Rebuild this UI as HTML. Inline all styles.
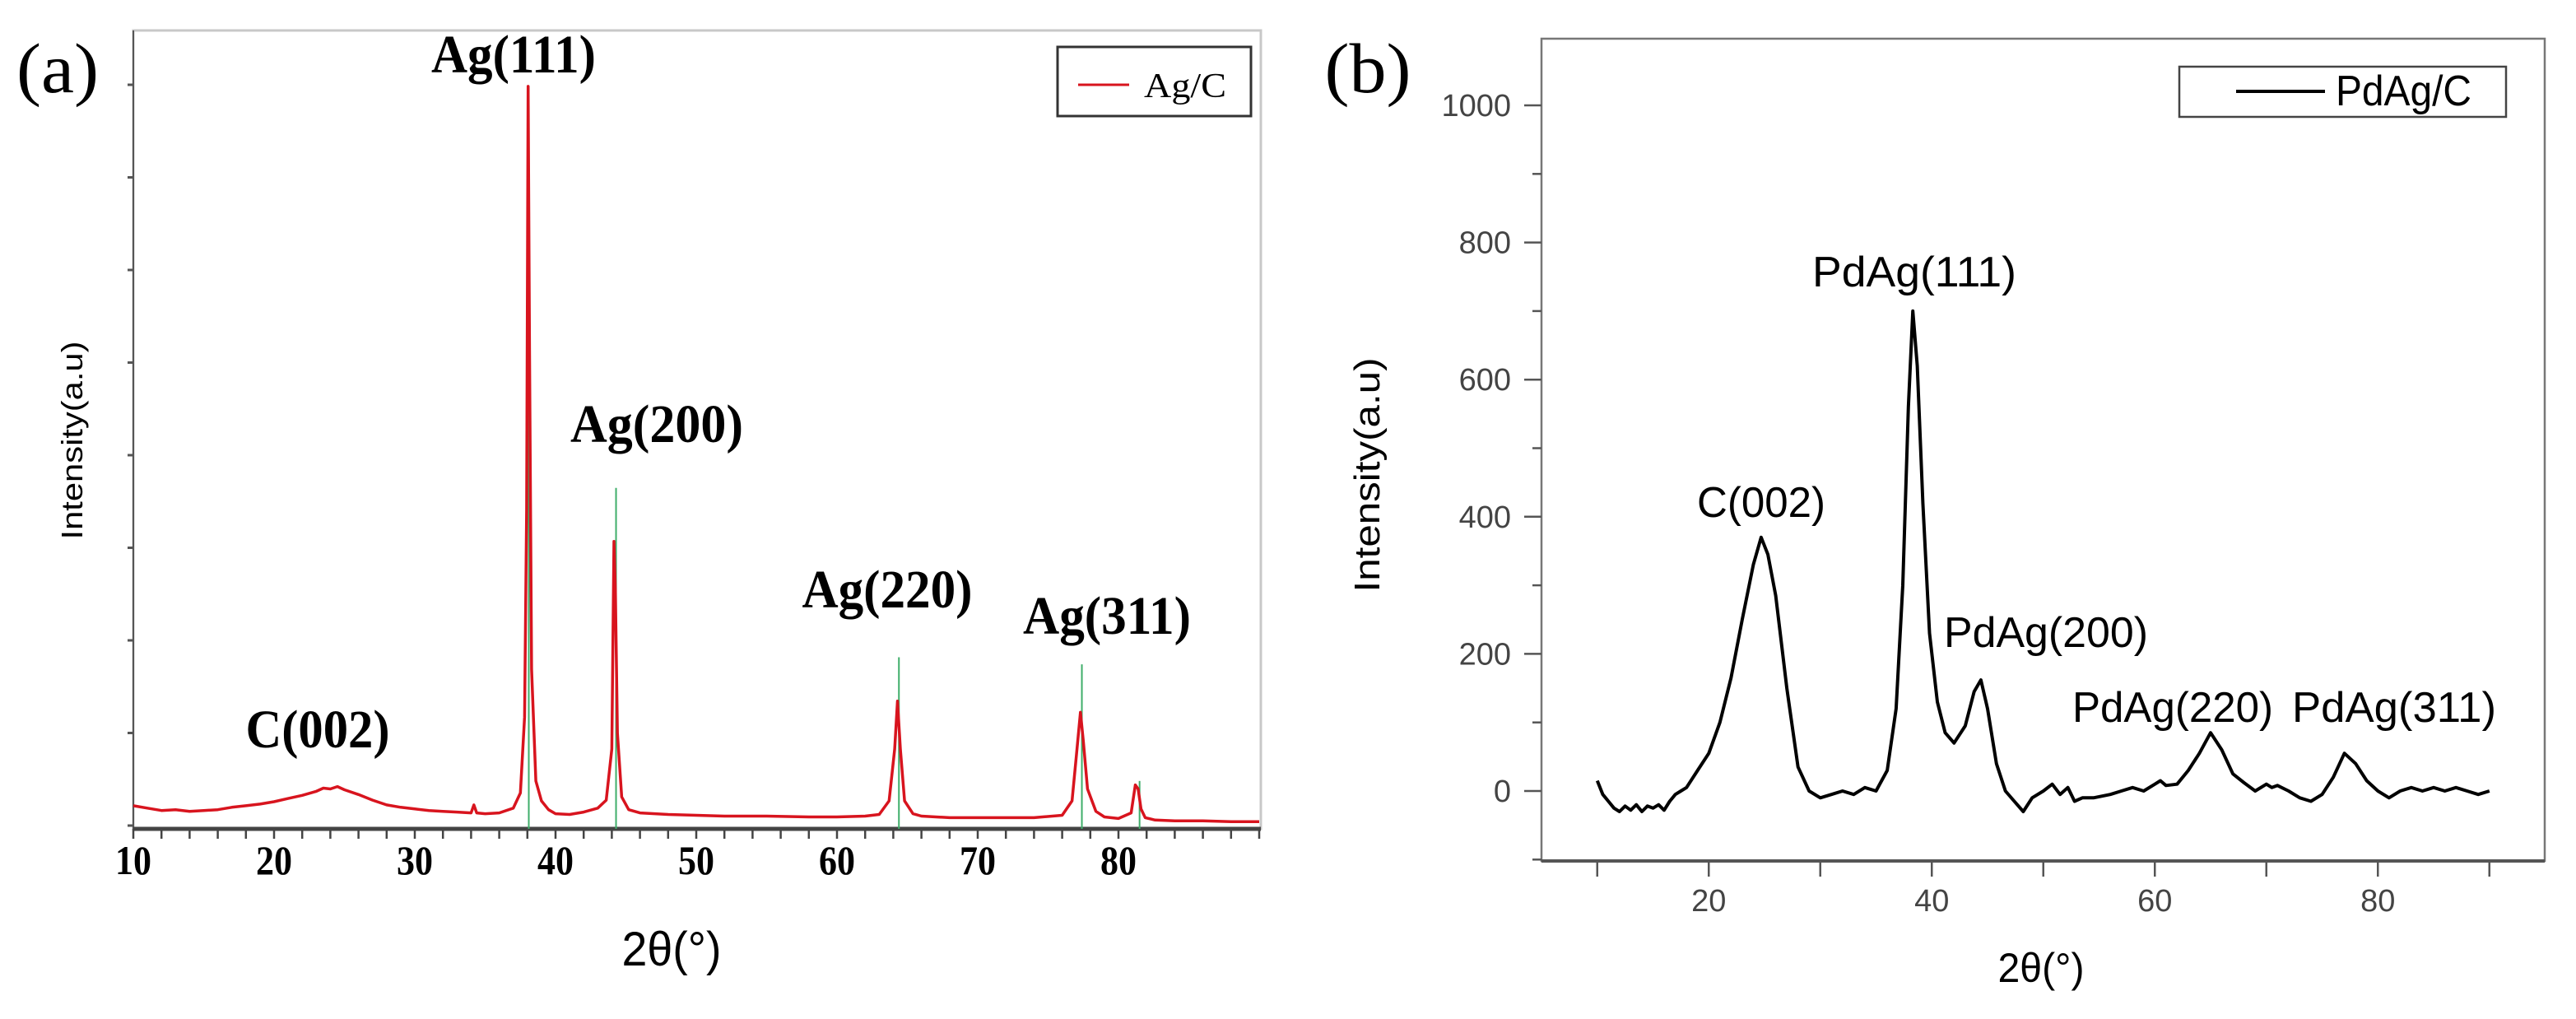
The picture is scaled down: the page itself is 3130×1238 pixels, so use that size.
<!DOCTYPE html>
<html><head><meta charset="utf-8">
<style>
html,body{margin:0;padding:0;background:#fff;}
svg{display:block;}
.serif{font-family:"Liberation Serif",serif;}
.sans{font-family:"Liberation Sans",sans-serif;}
</style></head>
<body>
<svg id="fig" width="3130" height="1238" viewBox="0 0 3130 1238" xmlns="http://www.w3.org/2000/svg">
<rect width="3130" height="1238" fill="#fff"/>
<g id="pa"></g>
<g id="pb"></g>
</svg>
<script>
// Panel (a) data: 2theta vs relative intensity (0-100 of plot height)
const xsA = [10,11,12,13,14,15,16,17,18,19,20,21,22,23,23.5,24,24.5,25,26,27,28,29,30,31,32,33,34,34.2,34.4,35,36,37,37.5,37.8,37.95,38.05,38.15,38.3,38.6,39,39.5,40,41,42,43,43.6,44.0,44.15,44.25,44.4,44.7,45.2,46,48,50,52,55,58,60,62,63,63.7,64.1,64.3,64.5,64.8,65.4,66,68,70,72,74,76,76.7,77.0,77.3,77.5,77.8,78.4,79,80,80.9,81.2,81.4,81.6,81.9,82.6,84,86,88,90];
const ysA = [2.9,2.6,2.3,2.4,2.2,2.3,2.4,2.7,2.9,3.1,3.4,3.8,4.2,4.7,5.1,5.0,5.3,4.9,4.3,3.6,3.0,2.7,2.5,2.3,2.2,2.1,2.0,3.0,2.0,1.9,2.0,2.6,4.5,14,40,93,60,20,6,3.5,2.4,1.9,1.8,2.1,2.6,3.6,10,36,30,12,4,2.4,2.0,1.8,1.7,1.6,1.6,1.5,1.5,1.6,1.8,3.5,10,16,10,3.5,1.9,1.6,1.4,1.4,1.4,1.4,1.7,3.5,9,14.6,11,5,2.2,1.5,1.3,2,5.5,5,2.5,1.4,1.1,1.0,1.0,0.9,0.9];
const refXA = [38.1,44.3,64.4,77.4,81.5];
const refHA = [93,42.7,21.5,20.6,6];
const xTicksA = [10,20,30,40,50,60,70,80];
const peakLabelsA = ["Ag(111)","Ag(200)","Ag(220)","Ag(311)","C(002)"];

// Panel (b) data
const xsB = [10,10.5,11,11.5,12,12.5,13,13.5,14,14.5,15,15.5,16,16.5,17,17.5,18,19,20,21,22,23,24,24.7,25.3,26,27,28,29,30,31,32,33,34,35,36,36.8,37.4,37.9,38.3,38.7,39.2,39.8,40.5,41.2,42,43,43.8,44.4,45,45.8,46.6,47.4,48.2,49,50,50.8,51.5,52.2,52.8,53.5,54.5,56,57,58,59,60,60.5,61,62,63,64,65,66,67,68,69,70,70.5,71,72,73,74,75,76,77,78,79,80,81,82,83,84,85,86,87,88,89,90];
const ysB = [15,-5,-15,-25,-30,-22,-28,-20,-30,-22,-25,-20,-28,-15,-5,0,5,30,55,100,165,250,330,370,345,285,150,35,0,-10,-5,0,-5,5,0,30,120,300,560,700,620,420,230,130,85,70,95,145,162,120,40,0,-15,-30,-10,0,10,-5,5,-15,-10,-10,-5,0,5,0,10,15,8,10,30,55,85,60,25,12,0,10,5,8,0,-10,-15,-5,20,55,40,15,0,-10,0,5,0,5,0,5,0,-5,0];
const yTicksB = [0,200,400,600,800,1000];
const xTicksB = [20,40,60,80];
const peakLabelsB = ["C(002)","PdAg(111)","PdAg(200)","PdAg(220)","PdAg(311)"];

const NS="http://www.w3.org/2000/svg";
function mk(parent, tag, attrs, text){
  const e=document.createElementNS(NS,tag);
  for(const k in attrs) e.setAttribute(k,attrs[k]);
  if(text!==undefined) e.textContent=text;
  parent.appendChild(e); return e;
}

// ---------- Panel A ----------
const pa=document.getElementById('pa');
const aL=162,aR=1532,aT=37,aB=1007;
const xA=v=>aL+(v-10)*17.1;
const yA=v=>aB-v*9.7;
let e;
e=mk(pa,'rect',{x:aL,y:aT,width:aR-aL,height:aB-aT,fill:'none',stroke:'#c8c8c8','stroke-width':3});


e=mk(pa,'line',{x1:aL,y1:aT,x2:aL,y2:aB,stroke:'#555','stroke-width':2});


for(let i=0;i<9;i++){
  const yy=103+i*112.5;
  e=mk(pa,'line',{x1:aL-7,y1:yy,x2:aL,y2:yy,stroke:'#555','stroke-width':3});
  
  
}
for(let v=10;v<=90;v+=2){
  e=mk(pa,'line',{x1:xA(v),y1:aB,x2:xA(v),y2:aB+12,stroke:'#444','stroke-width':2.5});
  
  
}
e=mk(pa,'line',{x1:aL,y1:aB,x2:aR,y2:aB,stroke:'#444','stroke-width':5});


xTicksA.forEach(v=>{
  e=mk(pa,'text',{x:xA(v),y:1062,'text-anchor':'middle','font-size':50,'font-weight':'bold',class:'serif',textLength:44,lengthAdjust:'spacingAndGlyphs'},String(v));
  
  
});
refXA.forEach((v,i)=>{
  e=mk(pa,'line',{x1:xA(v),y1:aB,x2:xA(v),y2:yA(refHA[i]),stroke:'#3fae6a','stroke-width':2});
  
  
});
let d='';
xsA.forEach((v,i)=>{d+=(i?'L':'M')+xA(v).toFixed(1)+' '+yA(ysA[i]).toFixed(1);});
e=mk(pa,'path',{d:d,fill:'none',stroke:'#d8141e','stroke-width':3.5,'stroke-linejoin':'round'});


const aLab=[[624,88,200],[798,537,210],[1078,738,207],[1345,770,204],[386,908,175]];
peakLabelsA.forEach((t,i)=>{
  e=mk(pa,'text',{x:aLab[i][0],y:aLab[i][1],'text-anchor':'middle','font-size':66,'font-weight':'bold',class:'serif',textLength:aLab[i][2],lengthAdjust:'spacingAndGlyphs'},t);
  
  
});
e=mk(pa,'text',{x:70,y:112,'text-anchor':'middle','font-size':86,class:'serif',textLength:100,lengthAdjust:'spacingAndGlyphs'},'(a)');


e=mk(pa,'text',{x:816,y:1173,'text-anchor':'middle','font-size':58,class:'sans',textLength:121,lengthAdjust:'spacingAndGlyphs'},'2θ(°)');


e=mk(pa,'text',{x:0,y:0,'text-anchor':'middle','font-size':36,class:'sans',textLength:241,lengthAdjust:'spacingAndGlyphs',transform:'translate(100,535) rotate(-90)'},'Intensity(a.u)');


e=mk(pa,'rect',{x:1285,y:57,width:235,height:84,fill:'#fff',stroke:'#333','stroke-width':3});


e=mk(pa,'line',{x1:1310,y1:103,x2:1372,y2:103,stroke:'#d8141e','stroke-width':3});


e=mk(pa,'text',{x:1390,y:118,'font-size':42,class:'serif',textLength:100,lengthAdjust:'spacingAndGlyphs'},'Ag/C');



// ---------- Panel B ----------
const pb=document.getElementById('pb');
const bL=1873,bR=3092,bT=47,bB=1046;
const xB=v=>bL+(v-5)*13.55;
const yB=v=>961-v*0.833;
e=mk(pb,'rect',{x:bL,y:bT,width:bR-bL,height:bB-bT,fill:'none',stroke:'#777','stroke-width':2.5});


e=mk(pb,'line',{x1:bL,y1:bB,x2:bR,y2:bB,stroke:'#555','stroke-width':4});


for(let v=-100;v<=1000;v+=100){
  const major=(v%200===0);
  e=mk(pb,'line',{x1:bL-(major?21:11),y1:yB(v),x2:bL,y2:yB(v),stroke:'#555','stroke-width':2.5});
  
  
}
yTicksB.forEach(v=>{
  e=mk(pb,'text',{x:1836,y:yB(v)+13,'text-anchor':'end','font-size':38,fill:'#444',class:'sans'},String(v));
  
  
});
for(let v=10;v<=90;v+=10){
  e=mk(pb,'line',{x1:xB(v),y1:bB,x2:xB(v),y2:bB+19,stroke:'#555','stroke-width':2.5});
  
  
}
xTicksB.forEach(v=>{
  e=mk(pb,'text',{x:xB(v),y:1107,'text-anchor':'middle','font-size':38,fill:'#444',class:'sans'},String(v));
  
  
});
d='';
xsB.forEach((v,i)=>{d+=(i?'L':'M')+xB(v).toFixed(1)+' '+yB(ysB[i]).toFixed(1);});
e=mk(pb,'path',{d:d,fill:'none',stroke:'#000','stroke-width':4,'stroke-linejoin':'round'});


const bLab=[[2140,628,156],[2326,348,248],[2486,786,248],[2640,877,244],[2909,877,248]];
peakLabelsB.forEach((t,i)=>{
  e=mk(pb,'text',{x:bLab[i][0],y:bLab[i][1],'text-anchor':'middle','font-size':52,class:'sans',textLength:bLab[i][2],lengthAdjust:'spacingAndGlyphs'},t);
  
  
});
e=mk(pb,'text',{x:1662,y:112,'text-anchor':'middle','font-size':86,class:'serif',textLength:105,lengthAdjust:'spacingAndGlyphs'},'(b)');


e=mk(pb,'text',{x:2480,y:1193,'text-anchor':'middle','font-size':50,class:'sans',textLength:105,lengthAdjust:'spacingAndGlyphs'},'2θ(°)');


e=mk(pb,'text',{x:0,y:0,'text-anchor':'middle','font-size':44,class:'sans',textLength:285,lengthAdjust:'spacingAndGlyphs',transform:'translate(1676,577) rotate(-90)'},'Intensity(a.u)');


e=mk(pb,'rect',{x:2648,y:81,width:397,height:61,fill:'#fff',stroke:'#444','stroke-width':2.5});


e=mk(pb,'line',{x1:2717,y1:111,x2:2825,y2:111,stroke:'#000','stroke-width':4});


e=mk(pb,'text',{x:2838,y:128,'font-size':52,class:'sans',textLength:165,lengthAdjust:'spacingAndGlyphs'},'PdAg/C');


</script>
</body></html>
